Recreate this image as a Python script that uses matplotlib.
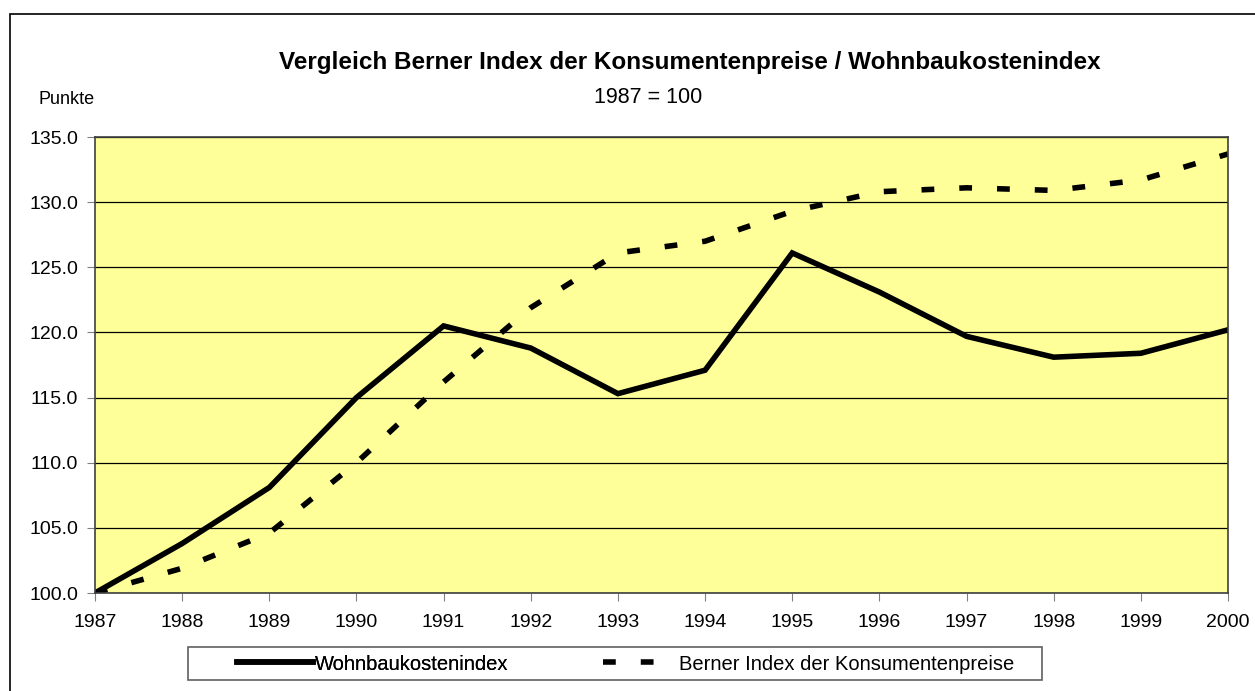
import matplotlib.pyplot as plt
from matplotlib.patches import Rectangle
from matplotlib.ticker import FormatStrFormatter

plt.rcParams['font.family'] = ['Liberation Sans', 'DejaVu Sans']

years = list(range(1987, 2001))
wohnbau = [100.0, 103.8, 108.1, 115.0, 120.5, 118.8, 115.3, 117.1, 126.1, 123.1, 119.7, 118.1, 118.4, 120.2]
berner = [100.0, 101.9, 104.6, 110.0, 116.2, 121.9, 126.1, 127.0, 129.3, 130.8, 131.1, 130.9, 131.7, 133.7]
yticks = [100, 105, 110, 115, 120, 125, 130, 135]

W, H = 1255, 691
fig = plt.figure(figsize=(W / 100, H / 100), dpi=100)

# outer chart border (only top/left visible in the original)
fig.patches.append(Rectangle((10 / W, -0.05), 1.2, 1 - 14 / H + 0.05, transform=fig.transFigure,
                             fill=False, edgecolor='black', lw=1.2))

ax = fig.add_axes([95 / W, 1 - 593 / H, (1228 - 95) / W, (593 - 137) / H])
ax.set_facecolor('#FFFF99')

l1, = ax.plot(years, wohnbau, color='black', lw=4, solid_joinstyle='miter', label='Wohnbaukostenindex')
l2, = ax.plot(years, berner, color='black', lw=4, dashes=(2.3, 4.5), dash_capstyle='butt',
              label='Berner Index der Konsumentenpreise')

ax.set_xlim(1987, 2000)
ax.set_ylim(100, 135)
ax.set_xticks(years)
ax.set_yticks(yticks)
ax.yaxis.set_major_formatter(FormatStrFormatter('%.1f'))
ax.grid(axis='y', color='black', lw=0.9)
ax.set_axisbelow(True)
ax.tick_params(direction='out', length=6, color='#808080', labelsize=14)
ax.tick_params(axis='x', pad=9)
ax.tick_params(axis='y', pad=6)
for s in ax.spines.values():
    s.set_color('#404040')
    s.set_linewidth(1.2)

fig.text(690 / W, 1 - 69 / H, 'Vergleich Berner Index der Konsumentenpreise / Wohnbaukostenindex',
         ha='center', va='baseline', fontsize=17.5, fontweight='bold')
fig.text(648 / W, 1 - 103 / H, '1987 = 100', ha='center', va='baseline', fontsize=15.5)
fig.text(38 / W, 1 - 104 / H, 'Punkte', ha='left', va='baseline', fontsize=13)

# legend box
fig.patches.append(Rectangle((188 / W, 1 - 680 / H), (1042 - 188) / W, 33 / H, transform=fig.transFigure,
                             fill=False, edgecolor='#606060', lw=1.2))
leg1 = fig.legend(handles=[l1], loc='center left', bbox_to_anchor=(237 / W, 1 - 664 / H),
                  frameon=False, fontsize=14.5, handlelength=3.75, handletextpad=0.1,
                  borderpad=0, borderaxespad=0)
fig.add_artist(leg1)
fig.legend(handles=[l2], loc='center left', bbox_to_anchor=(603 / W, 1 - 664 / H),
           frameon=False, fontsize=14.5, handlelength=2.63, handletextpad=1.15,
           borderpad=0, borderaxespad=0)

fig.savefig('out.png', dpi=100)
